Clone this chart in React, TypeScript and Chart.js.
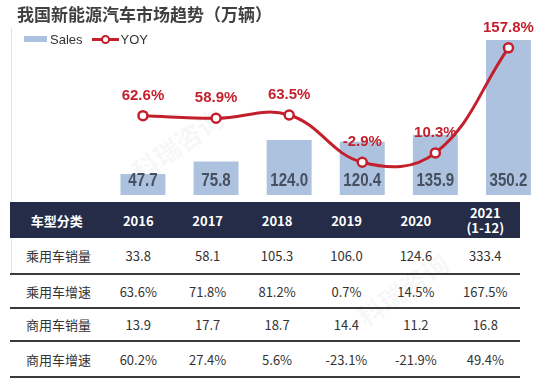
import React, { useEffect, useRef } from "react";
import { Chart, registerables } from "chart.js";

Chart.register(...registerables);

const years = ["2016", "2017", "2018", "2019", "2020", "2021"];
const yearHeaders = ["2016", "2017", "2018", "2019", "2020", "2021\n(1-12)"];
const sales = [47.7, 75.8, 124.0, 120.4, 135.9, 350.2];
const yoy = [62.6, 58.9, 63.5, -2.9, 10.3, 157.8];

const rowLabels = ["乘用车销量", "乘用车增速", "商用车销量", "商用车增速"];
const passengerSales = ["33.8", "58.1", "105.3", "106.0", "124.6", "333.4"];
const passengerGrowth = ["63.6%", "71.8%", "81.2%", "0.7%", "14.5%", "167.5%"];
const commercialSales = ["13.9", "17.7", "18.7", "14.4", "11.2", "16.8"];
const commercialGrowth = ["60.2%", "27.4%", "5.6%", "-23.1%", "-21.9%", "49.4%"];
const tableRows = [passengerSales, passengerGrowth, commercialSales, commercialGrowth];

const BAR_COLOR = "#adc2de";
const LINE_COLOR = "#c41f2d";
const NAVY = "#242c48";

const labelPlugin = {
  id: "valueLabels",
  afterDatasetsDraw(chart: any) {
    const ctx = chart.ctx;
    const barMeta = chart.getDatasetMeta(0);
    const y0 = chart.scales.y.getPixelForValue(0);
    ctx.save();
    ctx.font = "bold 18px 'Liberation Sans', Arial, sans-serif";
    ctx.fillStyle = "#465060";
    ctx.textAlign = "center";
    ctx.textBaseline = "middle";
    barMeta.data.forEach((el: any, i: number) => {
      ctx.save();
      ctx.translate(el.x, y0 - 14);
      ctx.scale(0.84, 1);
      ctx.fillText(sales[i].toFixed(1), 0, 0);
      ctx.restore();
    });
    const lineMeta = chart.getDatasetMeta(1);
    ctx.font = "bold 15px 'Liberation Sans', Arial, sans-serif";
    ctx.fillStyle = LINE_COLOR;
    lineMeta.data.forEach((el: any, i: number) => {
      ctx.fillText(yoy[i].toFixed(1) + "%", el.x, el.y - 20);
    });
    ctx.restore();
  },
};

function ChartCanvas() {
  const ref = useRef<HTMLCanvasElement>(null);
  useEffect(() => {
    if (!ref.current) return;
    const chart = new Chart(ref.current, {
      type: "bar",
      data: {
        labels: years,
        datasets: [
          {
            type: "bar",
            label: "Sales",
            data: sales,
            backgroundColor: BAR_COLOR,
            borderWidth: 0,
            barPercentage: 0.615,
            categoryPercentage: 1,
            yAxisID: "y",
            order: 2,
          },
          {
            type: "line",
            label: "YOY",
            data: yoy,
            borderColor: LINE_COLOR,
            borderWidth: 3,
            backgroundColor: "#ffffff",
            pointBackgroundColor: "#ffffff",
            pointBorderColor: LINE_COLOR,
            pointBorderWidth: 2.5,
            pointRadius: 4.5,
            tension: 0.4,
            yAxisID: "y1",
            order: 1,
          } as any,
        ],
      },
      options: {
        responsive: false,
        animation: false,
        devicePixelRatio: 1,
        layout: { padding: { left: 106.4, right: 6.4, top: 40, bottom: 0 } },
        plugins: {
          legend: { display: false },
          title: { display: false },
          tooltip: { enabled: false },
        },
        scales: {
          x: { display: false, offset: true, grid: { display: false } },
          y: { display: false, min: 0, max: 350.2 },
          y1: { display: false, min: -48.8, max: 168.8, position: "right" },
        },
      },
      plugins: [labelPlugin],
    });
    return () => chart.destroy();
  }, []);
  return <canvas ref={ref} width={552} height={202} style={{ position: "absolute", left: 0, top: 0 }} />;
}

export default function App() {
  const cjk = "'Noto Sans CJK SC', 'Microsoft YaHei', sans-serif";
  const colW = [93, 69, 69, 69, 69, 69, 69];
  const rowH = [36, 34, 33, 36];
  return (
    <div
      style={{
        position: "absolute",
        left: 0,
        top: 0,
        width: 552,
        height: 378,
        background: "#ffffff",
        overflow: "hidden",
        fontFamily: cjk,
      }}
    >
      {/* faint watermark */}
      <div
        style={{
          position: "absolute",
          left: 125,
          top: 125,
          transform: "rotate(-35deg)",
          fontSize: 26,
          fontWeight: 700,
          color: "rgba(0,0,0,0.05)",
          whiteSpace: "nowrap",
        }}
      >
        科瑞咨询
      </div>
      <div
        style={{
          position: "absolute",
          left: 350,
          top: 270,
          transform: "rotate(-35deg)",
          fontSize: 26,
          fontWeight: 700,
          color: "rgba(0,0,0,0.045)",
          whiteSpace: "nowrap",
        }}
      >
        科瑞咨询
      </div>
      <div
        style={{
          position: "absolute",
          left: 11,
          top: 28,
          width: 1,
          height: 245,
          background: "#e4e4e4",
        }}
      />
      <ChartCanvas />
      <div
        style={{
          position: "absolute",
          left: 17,
          top: 2,
          fontSize: 17,
          fontWeight: 700,
          color: "#404040",
          whiteSpace: "nowrap",
          lineHeight: "24px",
        }}
      >
        我国新能源汽车市场趋势（万辆）
      </div>
      <div
        style={{
          position: "absolute",
          left: 24,
          top: 30,
          height: 18,
          display: "flex",
          alignItems: "center",
          fontFamily: "'Liberation Sans', Arial, sans-serif",
          fontSize: 13,
          color: "#333",
        }}
      >
        <span style={{ display: "inline-block", width: 23, height: 6, background: BAR_COLOR, marginRight: 3 }} />
        <span>Sales</span>
        <span style={{ position: "relative", display: "inline-block", width: 27, height: 10, marginLeft: 9, marginRight: 2 }}>
          <span style={{ position: "absolute", left: 0, top: 4, width: 27, height: 3, background: LINE_COLOR }} />
          <span
            style={{
              position: "absolute",
              left: 9,
              top: 1,
              width: 5,
              height: 5,
              borderRadius: "50%",
              border: `2px solid ${LINE_COLOR}`,
              background: "#fff",
            }}
          />
        </span>
        <span>YOY</span>
      </div>
      <table
        style={{
          position: "absolute",
          left: 10,
          top: 202,
          width: 510,
          borderCollapse: "collapse",
          tableLayout: "fixed",
          fontFamily: cjk,
          fontSize: 13,
          color: "#333",
        }}
      >
        <colgroup>
          {colW.map((w, i) => (
            <col key={i} style={{ width: w }} />
          ))}
        </colgroup>
        <thead>
          <tr style={{ background: NAVY, height: 36 }}>
            <th style={{ color: "#fff", fontWeight: 700, fontSize: 13, padding: 0, textAlign: "center" }}>车型分类</th>
            {yearHeaders.map((h, i) => (
              <th
                key={i}
                style={{
                  color: "#fff",
                  fontWeight: 700,
                  fontSize: 13,
                  padding: 0,
                  textAlign: "center",
                  lineHeight: "15px",
                  whiteSpace: "pre",
                }}
              >
                {h}
              </th>
            ))}
          </tr>
        </thead>
        <tbody>
          {tableRows.map((row, r) => (
            <tr key={r} style={{ height: rowH[r], borderBottom: "2px solid #3a3a3a" }}>
              <td style={{ padding: "0 0 0 16px", textAlign: "left", whiteSpace: "nowrap" }}>
                {rowLabels[r]}
              </td>
              {row.map((v, i) => (
                <td key={i} style={{ padding: 0, textAlign: "center" }}>
                  {v}
                </td>
              ))}
            </tr>
          ))}
        </tbody>
      </table>
    </div>
  );
}
